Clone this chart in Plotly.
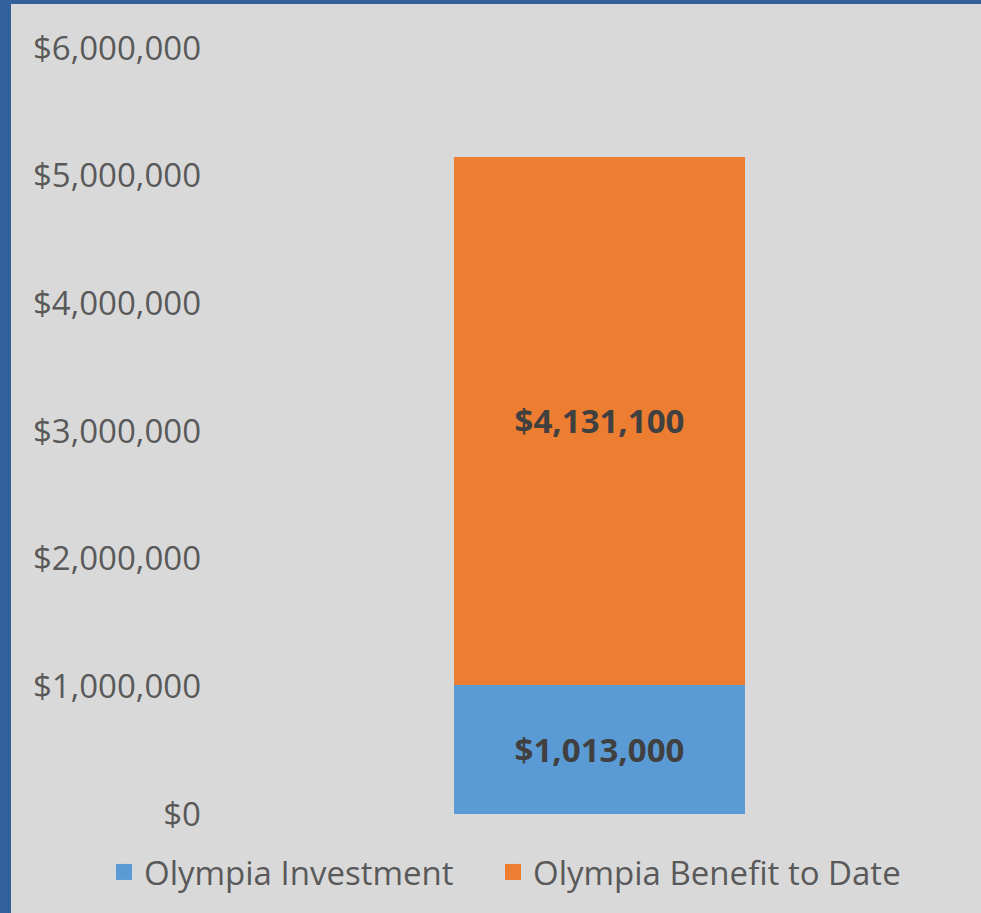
import plotly.graph_objects as go

# Category and series values
categories = ["Olympia"]
investment = [1013000]
benefit = [4131100]
series_names = ["Olympia Investment", "Olympia Benefit to Date"]
tick_values = [0, 1000000, 2000000, 3000000, 4000000, 5000000, 6000000]
tick_labels = ["$0", "$1,000,000", "$2,000,000", "$3,000,000",
               "$4,000,000", "$5,000,000", "$6,000,000"]

W, H = 981, 913
ML, MR, MT, MB = 218, 0, 48, 99
PLOT_W = W - ML - MR
PLOT_H = H - MT - MB

BLUE = "#5B9BD5"
ORANGE = "#ED7D31"
FRAME = "#31609A"
BG = "#D9D9D9"
FONT = "Open Sans"

fig = go.Figure()
for name, vals, color in [(series_names[0], investment, BLUE),
                          (series_names[1], benefit, ORANGE)]:
    fig.add_trace(go.Bar(
        x=categories, y=vals, name=name,
        marker=dict(color=color, line=dict(width=0)),
        width=0.381,
        texttemplate="$%{y:,.0f}",
        textposition="inside",
        insidetextanchor="middle",
        textangle=0,
        textfont=dict(family=FONT, size=33, color="#404040", weight="bold"),
        hoverinfo="skip",
        showlegend=False,
        legendgroup=name,
    ))

# Legend keys (one legend box per series so each can be placed freely)
LEGEND_X = [104, 493]
for i, (name, color) in enumerate([(series_names[0], BLUE), (series_names[1], ORANGE)]):
    fig.add_trace(go.Scatter(
        x=[None], y=[None], mode="markers", name=name, legendgroup=name,
        legend="legend" if i == 0 else "legend2",
        marker=dict(symbol="square", size=21, color=color, line=dict(width=0)),
        hoverinfo="skip",
    ))

legend_common = dict(
    orientation="h",
    xref="container", yref="container",
    xanchor="left",
    y=1 - 872 / H, yanchor="middle",
    font=dict(family=FONT, size=33, color="#595959"),
    bgcolor="rgba(0,0,0,0)",
    itemwidth=30,
    itemsizing="trace",
)

# Dark frame along the left and top edges of the page
fig.add_shape(type="rect", xref="paper", yref="paper",
              x0=-ML / PLOT_W, x1=(11 - ML) / PLOT_W,
              y0=-MB / PLOT_H, y1=1 + MT / PLOT_H,
              fillcolor=FRAME, line=dict(width=0), layer="above")
fig.add_shape(type="rect", xref="paper", yref="paper",
              x0=-ML / PLOT_W, x1=1 + MR / PLOT_W,
              y0=1 + (MT - 4) / PLOT_H, y1=1 + MT / PLOT_H,
              fillcolor=FRAME, line=dict(width=0), layer="above")

fig.update_layout(
    width=W, height=H,
    barmode="stack",
    margin=dict(l=ML, r=MR, t=MT, b=MB, autoexpand=False),
    paper_bgcolor=BG, plot_bgcolor=BG,
    font=dict(family=FONT, color="#595959"),
    showlegend=True,
    legend=dict(legend_common, x=LEGEND_X[0] / W),
    legend2=dict(legend_common, x=LEGEND_X[1] / W),
    xaxis=dict(range=[-0.5, 0.5], showticklabels=False, showgrid=False,
               zeroline=False, showline=False, fixedrange=True),
    yaxis=dict(range=[0, 6000000], tickvals=tick_values, ticktext=tick_labels,
               showgrid=False, zeroline=False, showline=False,
               tickfont=dict(family=FONT, size=33, color="#595959"),
               ticklabelstandoff=16, fixedrange=True),
)

fig.write_html("out.html")
